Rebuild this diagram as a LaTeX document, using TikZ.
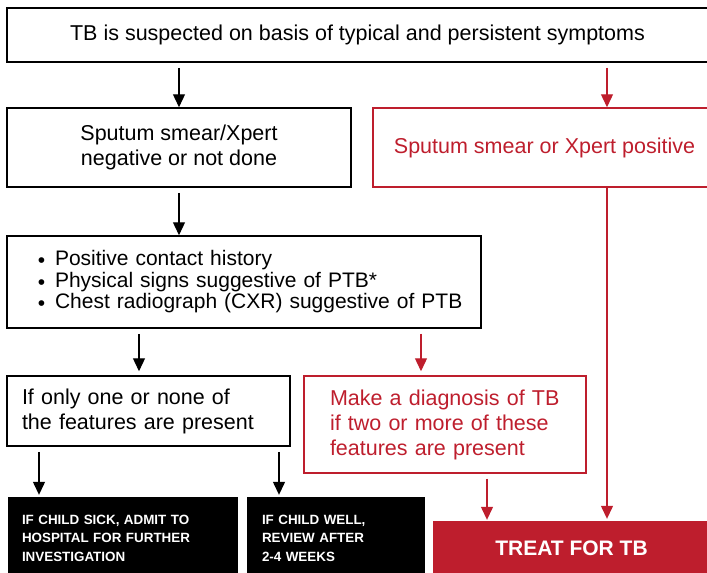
\documentclass[tikz,border=0pt]{standalone}
\usepackage{fontspec}
\setmainfont{Liberation Sans}
\usetikzlibrary{arrows.meta,positioning}
\definecolor{tbred}{RGB}{190,30,45}
\newcommand{\tbitem}{\hspace*{16pt}\makebox[17pt][l]{\raisebox{-2pt}{\textbullet}}}

\tikzset{
  box/.style={draw, line width=1.5pt, rectangle, inner sep=0pt, align=center, font=\fontsize{21.5}{25}\selectfont},
  leftbox/.style={box, align=left},
  redbox/.style={draw=tbred, text=tbred},
  blackbox/.style={fill=black, text=white, inner ysep=0pt, align=left, font=\bfseries\fontsize{13.4}{18.5}\selectfont},
  arr/.style={-{Triangle[width=12pt,length=13pt]}, line width=1.3pt, shorten <=5pt},
  redarr/.style={arr, draw=tbred, fill=tbred}
}

\begin{document}
\begin{tikzpicture}[x=1pt,y=-1pt]
\useasboundingbox (0,0) rectangle (707,573);

% boxes
\node (top) [box, minimum width=701pt, minimum height=54pt] at (357.5,35) {TB is suspected on basis of typical and persistent symptoms};
\node (neg) [box, minimum width=344pt, minimum height=79pt] at (179,147.5) {Sputum smear/Xpert\\negative or not done};
\node (pos) [box, redbox, minimum width=343pt, minimum height=79pt] at (544.5,147.5) {Sputum smear or Xpert positive};
\node (feat) [leftbox, inner xsep=15pt, text width=444pt, minimum height=92pt, font=\fontsize{21}{21.5}\selectfont] at (244,282)
  {\tbitem Positive contact history\\\tbitem Physical signs suggestive of PTB*\\\tbitem Chest radiograph (CXR) suggestive of PTB};
\node (one) [leftbox, inner xsep=15pt, text width=253pt, minimum height=70pt] at (148.5,411) {If only one or none of\\the features are present};
\node (diag) [leftbox, redbox, inner xsep=26pt, text width=230pt, minimum height=97pt] at (445,424.5) {Make a diagnosis of TB\\if two or more of these\\features are present};
\node (sick) [blackbox, inner xsep=14pt, text width=202pt, minimum height=82pt] at (123,538) {IF CHILD SICK, ADMIT TO\\HOSPITAL FOR FURTHER\\INVESTIGATION};
\node (well) [blackbox, inner xsep=15pt, text width=148pt, minimum height=82pt] at (336,538) {IF CHILD WELL,\\REVIEW AFTER\\2-4 WEEKS};
\node (treat) [fill=tbred, text=white, minimum width=277pt, minimum height=54pt, inner sep=0pt, font=\bfseries\fontsize{21}{24}\selectfont] at (571.5,548) {TREAT FOR TB};

% arrow columns
\coordinate (cpos) at (607,0);
\coordinate (cone) at (139,0);
\coordinate (cdiag) at (421,0);
\coordinate (csick) at (39,0);
\coordinate (cwell) at (279,0);
\coordinate (ctreat) at (487,0);

% black arrows
\draw[arr] (top.south -| neg.north) -- (neg.north);
\draw[arr] (neg.south) -- (feat.north -| neg.south);
\draw[arr] (feat.south -| cone) -- ([yshift=4pt]one.north -| cone);
\draw[arr] (one.south -| csick) -- ([yshift=2pt]sick.north -| csick);
\draw[arr] (one.south -| cwell) -- ([yshift=2pt]well.north -| cwell);

% red arrows
\draw[redarr] (top.south -| cpos) -- (pos.north -| cpos);
\draw[redarr, shorten <=0pt] (pos.south -| cpos) -- ([yshift=2pt]treat.north -| cpos);
\draw[redarr] (feat.south -| cdiag) -- ([yshift=4pt]diag.north -| cdiag);
\draw[redarr] (diag.south -| ctreat) -- ([yshift=1pt]treat.north -| ctreat);
\end{tikzpicture}
\end{document}
